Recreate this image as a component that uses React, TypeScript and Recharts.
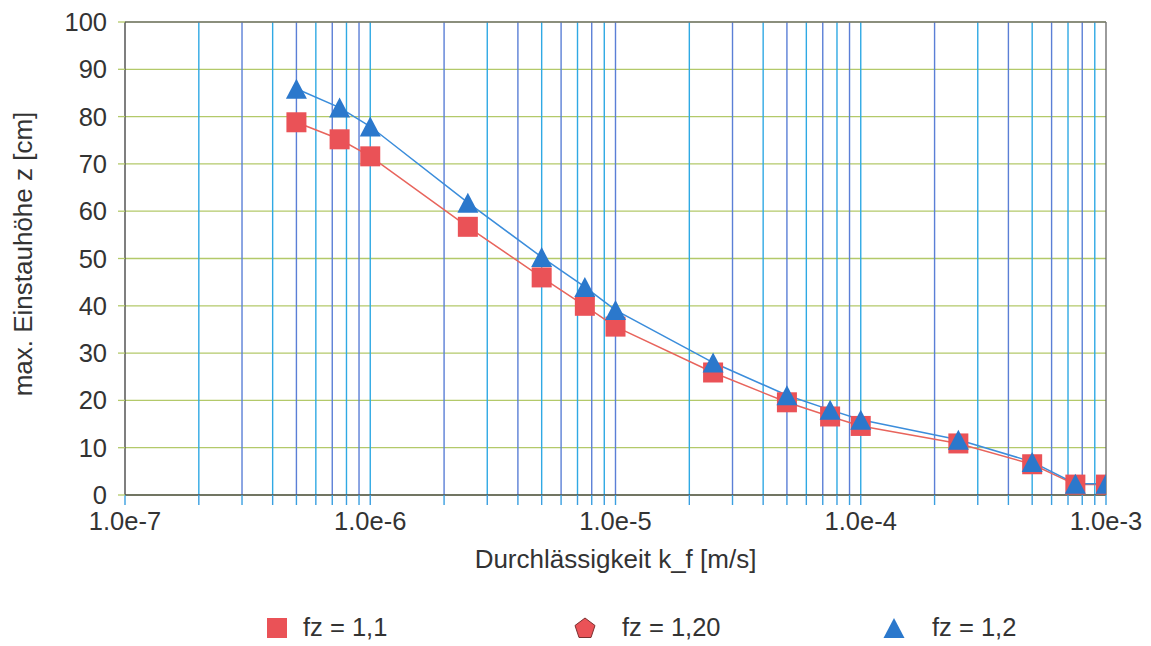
import { LineChart, Line, XAxis, YAxis, CartesianGrid, ReferenceLine, Label } from 'recharts'

// Durchlässigkeit k_f [m/s]
const kValues = [5e-7, 7.5e-7, 1e-6, 2.5e-6, 5e-6, 7.5e-6, 1e-5, 2.5e-5, 5e-5, 7.5e-5, 1e-4, 2.5e-4, 5e-4, 7.5e-4, 1e-3]
// max. Einstauhöhe z [cm]
const fz11 = [78.8, 75.2, 71.6, 56.7, 46.0, 40.0, 35.6, 25.9, 19.6, 16.6, 14.6, 10.9, 6.5, 2.2, 2.2]
const fz12 = [85.9, 81.9, 77.9, 61.8, 50.3, 44.0, 39.1, 28.0, 21.1, 18.0, 15.9, 11.7, 7.0, 2.4, 2.4]

const decades = [1e-7, 1e-6, 1e-5, 1e-4]
const decadeLabels = ['1.0e-7', '1.0e-6', '1.0e-5', '1.0e-4', '1.0e-3']
const mantissas = [1, 2, 3, 4, 5, 6, 7, 8, 9]
const yTicks = [0, 10, 20, 30, 40, 50, 60, 70, 80, 90, 100]

const legendItems = ['fz = 1,1', 'fz = 1,20', 'fz = 1,2']

const xTicks = [...decades.flatMap(d => mantissas.map(m => m * d)), 1e-3]
const data = kValues.map((k, i) => ({ k, fz11: fz11[i], fz12: fz12[i] }))

const RED = '#ea5257'
const BLUE = '#2b78cc'
const FONT = '"Liberation Sans", Arial, sans-serif'
const TEXT = '#333'

function tickLabel(v: number) {
  const i = xTicks.indexOf(v)
  if (i % 9 !== 0) return ''
  return decadeLabels[i / 9]
}

function SquareDot(props: any) {
  const { cx, cy, index } = props
  if (cx == null || cy == null) return null
  return <rect key={`s${index}`} x={cx - 10} y={cy - 10} width={20} height={20} fill={RED} />
}

function TriangleDot(props: any) {
  const { cx, cy, index } = props
  if (cx == null || cy == null) return null
  return (
    <polygon
      key={`t${index}`}
      points={`${cx},${cy - 10} ${cx + 10.5},${cy + 10} ${cx - 10.5},${cy + 10}`}
      fill={BLUE}
    />
  )
}

function Legend() {
  const text = { position: 'absolute' as const, top: 613, fontSize: 25.5, fontFamily: FONT, color: TEXT }
  return (
    <>
      <div style={{ position: 'absolute', left: 267, top: 618, width: 20, height: 20, background: RED }} />
      <div style={{ ...text, left: 303 }}>{legendItems[0]}</div>
      <svg style={{ position: 'absolute', left: 574, top: 617 }} width={22} height={22}>
        <polygon points="11,1 21,8.5 17,20.5 5,20.5 1,8.5" fill={RED} stroke="#7a3030" strokeWidth={1} />
      </svg>
      <div style={{ ...text, left: 622 }}>{legendItems[1]}</div>
      <svg style={{ position: 'absolute', left: 883, top: 618 }} width={22} height={22}>
        <polygon points="11,0 21.5,20 0.5,20" fill={BLUE} />
      </svg>
      <div style={{ ...text, left: 932 }}>{legendItems[2]}</div>
    </>
  )
}

export default function App() {
  return (
    <div style={{ position: 'absolute', left: 0, top: 0, width: 1151, height: 646, background: '#fff' }}>
      <LineChart width={1151} height={646} data={data} margin={{ top: 22, right: 45, bottom: 0, left: 0 }}>
        <CartesianGrid vertical={false} stroke="#b3c96a" strokeWidth={1.3} />
        {xTicks.slice(1, -1).map((t, i) => (
          <ReferenceLine key={t} x={t} stroke={i % 2 === 0 ? '#2fa9e4' : '#5b7fd6'} strokeWidth={1.4} />
        ))}
        <ReferenceLine x={1e-3} stroke="#666" strokeWidth={1.3} />
        <ReferenceLine y={100} stroke="#777" strokeWidth={1.3} />
        <XAxis
          dataKey="k"
          type="number"
          scale="log"
          domain={[1e-7, 1e-3]}
          allowDataOverflow
          ticks={xTicks}
          interval={0}
          tickFormatter={tickLabel}
          height={151}
          tickSize={10}
          tickMargin={7}
          axisLine={{ stroke: '#555', strokeWidth: 1.5 }}
          tickLine={{ stroke: '#3a9fe0', strokeWidth: 1.4 }}
          tick={{ fill: TEXT, fontSize: 25.5, fontFamily: FONT }}
        >
          <Label value="Durchlässigkeit k_f [m/s]" position="insideTop" offset={55} fill={TEXT} fontSize={26} fontFamily={FONT} />
        </XAxis>
        <YAxis
          type="number"
          domain={[0, 100]}
          ticks={yTicks}
          interval={0}
          width={125}
          tickSize={7}
          tickMargin={11}
          axisLine={{ stroke: '#555', strokeWidth: 1.5 }}
          tickLine={{ stroke: '#b3c96a', strokeWidth: 1.3 }}
          tick={{ fill: TEXT, fontSize: 25.5, fontFamily: FONT }}
        >
          <Label
            content={() => (
              <text
                x={23}
                y={254}
                transform="rotate(-90 23 254)"
                textAnchor="middle"
                dominantBaseline="central"
                fill={TEXT}
                fontSize={26}
                fontFamily={FONT}
              >
                max. Einstauhöhe z [cm]
              </text>
            )}
          />
        </YAxis>
        <Line dataKey="fz11" stroke="#e8645c" strokeWidth={1.5} dot={<SquareDot />} activeDot={false} isAnimationActive={false} />
        <Line dataKey="fz12" stroke="#3b8ddb" strokeWidth={1.5} dot={<TriangleDot />} activeDot={false} isAnimationActive={false} />
      </LineChart>
      <Legend />
    </div>
  )
}
